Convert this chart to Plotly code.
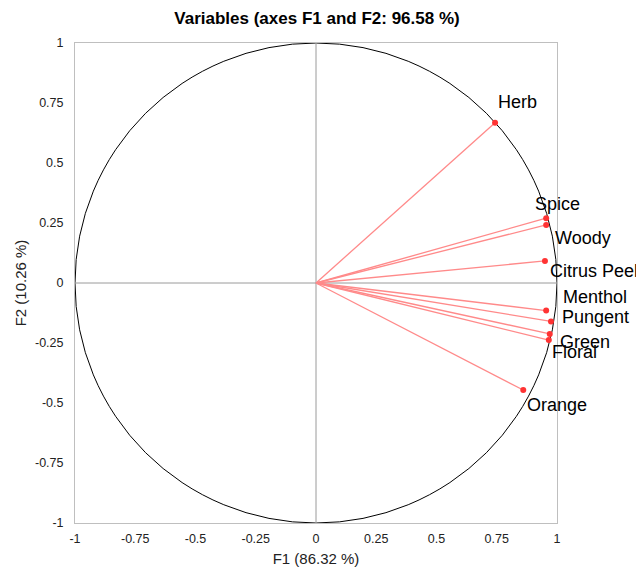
import plotly.graph_objects as go

variables = ["Herb", "Spice", "Woody", "Citrus Peel", "Menthol", "Pungent", "Green", "Floral", "Orange"]
f1 = [0.743, 0.955, 0.955, 0.950, 0.955, 0.975, 0.970, 0.966, 0.860]
f2 = [0.668, 0.270, 0.242, 0.092, -0.115, -0.160, -0.212, -0.238, -0.446]
# label offsets in pixels (text centre relative to point)
label_dx = [22, 11, 37, 49, 49, 45, 35, 26, 34]
label_dy = [21, 14, -13, -10, 14, 4, -8, -12, -15]

tick_vals = [-1, -0.75, -0.5, -0.25, 0, 0.25, 0.5, 0.75, 1]
tick_text = ["-1", "-0.75", "-0.5", "-0.25", "0", "0.25", "0.5", "0.75", "1"]

FONT = "Liberation Sans, Arial"

fig = go.Figure()

for x, y in zip(f1, f2):
    fig.add_trace(go.Scatter(x=[0, x], y=[0, y], mode="lines",
                             line=dict(color="#ff8a8a", width=1.3),
                             hoverinfo="skip", showlegend=False))

fig.add_trace(go.Scatter(x=f1, y=f2, mode="markers", text=variables,
                         marker=dict(color="#ff3333", size=6),
                         showlegend=False))

for name, x, y, dx, dy in zip(variables, f1, f2, label_dx, label_dy):
    fig.add_annotation(x=x, y=y, text=name, showarrow=False,
                       xshift=dx, yshift=dy,
                       font=dict(family=FONT, size=18, color="black"))

fig.add_shape(type="circle", xref="x", yref="y", x0=-1, y0=-1, x1=1, y1=1,
              line=dict(color="black", width=1), layer="below")
fig.add_shape(type="line", xref="x", yref="y", x0=0, y0=-1, x1=0, y1=1,
              line=dict(color="#9a9a9a", width=1), layer="below")
fig.add_shape(type="line", xref="x", yref="y", x0=-1, y0=0, x1=1, y1=0,
              line=dict(color="#9a9a9a", width=1), layer="below")

axis_common = dict(range=[-1, 1], tickvals=tick_vals, ticktext=tick_text,
                   showgrid=False, zeroline=False, showline=True, mirror=True,
                   linecolor="#bfbfbf", linewidth=1, automargin=False,
                   tickfont=dict(family=FONT, size=12.5, color="#222222"),
                   ticks="", fixedrange=True)

fig.update_layout(
    width=636, height=563,
    margin=dict(l=67, r=87, t=35, b=48),
    paper_bgcolor="white", plot_bgcolor="white",
    title=dict(text="<b>Variables (axes F1 and F2: 96.58 %)</b>", x=309 / 636, xanchor="center",
               yref="container", y=1 - 10 / 563, yanchor="middle",
               font=dict(family=FONT, size=17, color="black")),
    xaxis=dict(axis_common, ticklabelstandoff=4,
               title=dict(text="F1 (86.32 %)", standoff=8,
                          font=dict(family=FONT, size=15, color="#222222"))),
    yaxis=dict(axis_common, ticklabelstandoff=8,
               title=dict(text="F2 (10.26 %)", standoff=4,
                          font=dict(family=FONT, size=15, color="#222222"))),
    showlegend=False,
)

fig.write_html("out.html")
